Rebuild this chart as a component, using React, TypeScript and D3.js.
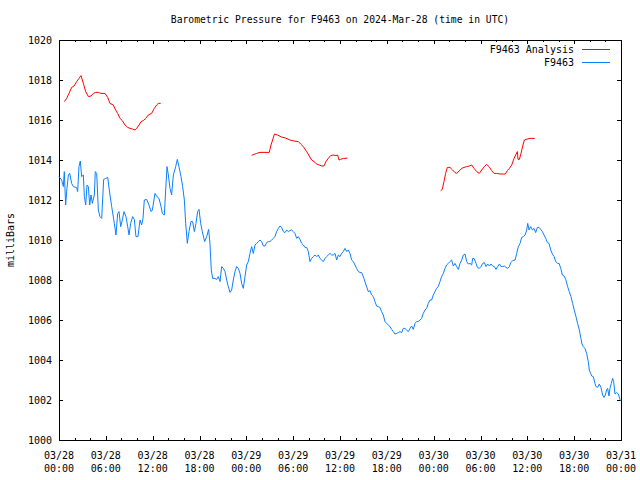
import React from "react";
import * as d3 from "d3";

// hours since 2024-03-28 00:00 UTC
const stationHours = [0,0.34,0.56,0.68,0.85,1.02,1.2,1.37,1.62,1.84,2.26,2.39,2.56,2.73,2.9,3.12,3.25,3.42,3.59,3.76,3.93,4.1,4.27,4.53,4.65,4.83,5.04,5.25,5.47,5.72,5.98,6.24,6.53,6.75,7.09,7.3,7.52,7.69,7.9,8.11,8.33,8.58,8.8,8.97,9.18,9.44,9.65,9.86,10.12,10.38,10.59,10.76,10.93,11.23,11.53,11.79,11.96,12.3,12.55,12.81,13.07,13.24,13.49,13.67,13.84,14.01,14.22,14.43,14.65,14.95,15.16,15.37,15.63,15.84,16.06,16.23,16.44,16.65,16.91,17.12,17.34,17.55,17.76,17.94,18.15,18.36,18.66,
18.92,19.17,19.34,19.51,19.69,19.98,20.2,20.41,20.63,20.84,21.05,21.27,21.48,21.69,21.91,22.12,22.33,22.55,22.76,22.97,23.19,23.4,23.61,23.83,24.04,24.25,24.47,24.68,24.9,25.11,25.32,25.54,25.75,25.96,26.18,26.39,26.6,26.82,27.03,27.24,27.46,27.67,27.88,28.1,28.31,28.52,28.74,28.95,29.17,29.38,29.59,29.81,30.02,30.23,30.45,30.66,30.87,31.09,31.3,31.51,31.73,31.94,32.15,32.37,32.58,32.8,33.01,33.22,33.44,33.65,33.86,34.08,34.29,34.5,34.72,34.93,35.14,35.36,35.57,35.78,36.0,36.21,36.42,36.64,36.85,37.07,37.28,
37.49,37.7,37.92,38.13,38.35,38.56,38.77,39.07,39.33,39.63,39.84,40.05,40.27,40.48,40.69,40.9,41.12,41.33,41.55,41.76,41.97,42.19,42.4,42.62,42.83,43.04,43.26,43.47,43.68,43.9,44.11,44.32,44.54,44.75,44.97,45.18,45.39,45.61,45.82,46.03,46.25,46.46,46.67,46.89,47.1,47.31,47.53,47.74,47.95,48.17,48.38,48.59,48.81,49.02,49.24,49.45,49.66,49.88,50.09,50.3,
50.52,50.73,50.95,51.16,51.38,51.59,51.8,52.02,52.23,52.44,52.66,52.87,53.0,53.17,53.43,53.6,53.85,54.07,54.28,54.49,54.71,54.92,55.14,55.35,55.56,55.78,55.99,56.2,56.42,56.63,56.85,57.06,57.27,57.49,57.7,57.87,58.13,58.43,58.64,58.85,59.07,59.28,59.49,59.71,59.92,60.05,60.22,60.43,60.65,60.86,61.07,61.29,61.5,61.71,61.93,62.14,62.36,62.57,62.78,63.0,63.21,63.43,63.64,63.85,64.07,64.28,64.49,64.71,64.92,
65.16,65.37,65.59,65.8,66.01,66.23,66.44,66.66,66.87,67.0,67.17,67.38,67.6,67.81,67.94,68.11,68.24,68.45,68.67,68.79,69.01,69.22,69.43,69.65,69.82,69.99,70.16,70.29,70.46,70.59,70.76,70.93,71.06,71.23,71.45,71.66,71.87,72];

const stationPressure = [1013.17,1013.0,1012.67,1013.42,1011.75,1012.58,1013.25,1013.33,1012.83,1012.67,1012.62,1012.42,1013.67,1013.95,1013.17,1013.25,1012.17,1011.75,1012.75,1012.67,1011.75,1012.25,1011.83,1012.25,1013.42,1013.33,1011.5,1011.17,1011.08,1013.03,1013.08,1013.13,1012.25,1011.67,1010.83,1010.25,1011.33,1011.42,1010.67,1011.0,1011.42,1011.17,1010.67,1010.25,1010.83,1011.17,1011.03,1010.17,1010.17,1011.0,1010.75,1011.08,1012.0,1012.03,1011.75,1011.42,1011.5,1012.33,1012.17,1012.08,1011.67,1011.33,1011.25,1012.5,1013.67,1013.25,1012.58,1012.25,1013.25,1013.67,1014.03,1013.67,1013.17,1012.67,1012.0,1010.83,1009.83,1010.42,1010.92,1010.92,1010.42,1010.83,1011.42,1011.53,1010.83,1010.42,1009.92,
1010.17,1010.53,1009.83,1008.5,1008.08,1008.08,1008.03,1008.17,1007.92,1008.67,1008.58,1008.42,1008.0,1007.67,1007.38,1007.5,1008.0,1008.42,1008.67,1008.58,1008.33,1007.83,1007.58,1008.17,1008.75,1008.92,1009.33,1009.67,1009.33,1009.75,1009.83,1009.92,1010.0,1009.92,1009.7,1009.7,1009.87,1009.92,1009.92,1010.0,1010.08,1010.17,1010.42,1010.58,1010.7,1010.63,1010.42,1010.37,1010.5,1010.42,1010.47,1010.5,1010.42,1010.33,1010.08,1010.17,1010.03,1009.83,1009.75,1009.63,1009.63,1009.42,1008.92,1009.08,1009.17,1009.25,1009.17,1009.25,1009.08,1009.0,1008.92,1009.08,1009.17,1009.25,1009.33,1009.25,1009.25,1009.33,1009.0,1009.25,1009.17,1009.33,1009.42,1009.58,1009.42,1009.5,1009.33,
1009.0,1008.92,1008.75,1008.58,1008.42,1008.38,1008.37,1008.08,1007.75,1007.42,1007.47,1007.25,1007.17,1006.92,1006.7,1006.67,1006.63,1006.42,1006.25,1005.92,1005.83,1005.75,1005.67,1005.53,1005.42,1005.3,1005.33,1005.37,1005.42,1005.37,1005.58,1005.58,1005.5,1005.42,1005.58,1005.7,1005.53,1005.83,1005.92,1005.92,1006.0,1006.08,1006.33,1006.5,1006.58,1006.83,1007.0,1007.0,1007.25,1007.42,1007.58,1007.67,1007.92,1008.17,1008.33,1008.58,1008.75,1008.83,1008.92,1009.0,
1008.7,1008.83,1008.67,1008.53,1008.83,1009.0,1009.25,1009.3,1008.92,1008.8,1008.83,1008.75,1009.08,1009.08,1008.83,1008.63,1008.58,1008.67,1008.83,1008.87,1008.67,1008.8,1008.7,1008.8,1008.7,1008.67,1008.53,1008.67,1008.8,1008.67,1008.67,1008.7,1008.63,1008.58,1008.67,1008.87,1008.97,1009.0,1009.33,1009.67,1009.83,1010.13,1010.17,1010.25,1010.5,1010.83,1010.5,1010.67,1010.5,1010.58,1010.37,1010.63,1010.63,1010.53,1010.42,1010.25,1010.08,1009.87,1009.83,1009.5,1009.3,1009.17,1008.92,1008.83,1008.83,1008.58,1008.25,1008.2,1008.03,
1007.67,1007.42,1007.17,1006.83,1006.5,1006.17,1005.83,1005.5,1005.08,1004.8,1004.67,1004.58,1004.33,1003.92,1003.5,1003.33,1003.2,1003.17,1002.83,1002.67,1002.63,1002.8,1002.63,1002.25,1002.13,1002.25,1002.5,1002.58,1002.2,1002.58,1002.83,1003.08,1002.92,1002.3,1002.37,1002.3,1002.03,1001.95];

// null marks a gap in the analysis record
const analysisHours = [0.68,0.98,1.28,1.62,1.92,2.26,2.56,2.82,3.12,3.42,3.76,4.1,4.4,4.7,5.04,5.38,5.89,6.24,6.53,6.96,7.26,7.52,7.82,8.11,8.46,8.8,9.1,9.4,9.74,9.95,10.25,10.51,10.81,11.1,11.44,11.87,12.21,12.51,12.72,13.02,
18.0,
24.68,24.98,25.32,25.75,26.39,26.94,27.16,27.37,27.6,28.0,28.5,29.0,29.59,30.1,30.66,30.96,31.3,31.51,31.73,32.07,32.37,32.67,33.01,33.35,33.65,33.95,34.2,34.5,34.8,35.14,35.48,35.7,35.87,36.08,36.42,36.64,36.94,
42.0,
48.89,49.1,49.32,49.53,49.75,50.09,50.43,50.73,50.95,51.29,51.59,51.89,52.23,52.57,52.87,53.17,53.51,53.85,54.15,54.49,54.79,55.09,55.43,55.73,56.07,56.5,56.92,57.18,57.44,57.7,58.0,58.3,58.51,58.72,58.81,58.98,59.19,59.41,59.62,59.83,60.35,60.95];

const analysisPressure = [1016.92,1017.08,1017.33,1017.63,1017.7,1017.92,1018.08,1018.22,1017.83,1017.42,1017.17,1017.2,1017.33,1017.38,1017.38,1017.33,1017.33,1017.13,1016.83,1016.75,1016.5,1016.33,1016.08,1015.97,1015.75,1015.63,1015.58,1015.55,1015.5,1015.58,1015.75,1015.92,1015.97,1016.08,1016.25,1016.33,1016.58,1016.75,1016.83,1016.83,
null,
1014.23,1014.28,1014.33,1014.38,1014.38,1014.38,1014.75,1015.0,1015.3,1015.25,1015.15,1015.1,1015.0,1014.95,1014.92,1014.8,1014.67,1014.55,1014.42,1014.2,1014.0,1013.92,1013.8,1013.75,1013.7,1013.7,1013.92,1014.08,1014.22,1014.25,1014.22,1014.25,1014.0,1014.03,1014.08,1014.08,1014.1,
null,
1012.47,1012.53,1012.92,1013.33,1013.63,1013.63,1013.5,1013.37,1013.33,1013.47,1013.58,1013.63,1013.67,1013.7,1013.75,1013.58,1013.42,1013.33,1013.5,1013.67,1013.78,1013.67,1013.47,1013.33,1013.33,1013.3,1013.3,1013.3,1013.47,1013.58,1013.75,1014.08,1014.25,1014.42,1014.03,1014.03,1014.33,1014.7,1015.0,1015.03,1015.08,1015.08];

const xTickDates = ["03/28","03/28","03/28","03/28","03/29","03/29","03/29","03/29","03/30","03/30","03/30","03/30","03/31"];
const xTickTimes = ["00:00","06:00","12:00","18:00","00:00","06:00","12:00","18:00","00:00","06:00","12:00","18:00","00:00"];
const yTicks = [1000,1002,1004,1006,1008,1010,1012,1014,1016,1018,1020];

const W = 640, H = 480;
const L = 59, R = 621, T = 40, B = 440;
const FONT = "'DejaVu Sans Mono', 'Liberation Mono', monospace";
const RED = "#ff0000";
const BLUE = "#0a80ff";

export default function App() {
  const x = d3.scaleLinear().domain([0, 72]).range([L, R]);
  const y = d3.scaleLinear().domain([1000, 1020]).range([B, T]);

  const stationData = stationHours.map((h, i) => [h, stationPressure[i]] as [number, number | null]);
  const analysisData = analysisHours.map((h, i) => [h, analysisPressure[i]] as [number, number | null]);

  const line = d3
    .line<[number, number | null]>()
    .defined((d) => d[1] != null)
    .x((d) => x(d[0]))
    .y((d) => y(d[1] as number));

  const majorX = d3.range(0, 73, 6);
  const minorX = d3.range(0, 73, 2).filter((h) => h % 6 !== 0);

  return (
    <div style={{ position: "fixed", left: 0, top: 0, background: "#fff" }}>
      <svg width={W} height={H} style={{ display: "block" }} fontFamily={FONT} fontSize={10}>
        <rect x={0} y={0} width={W} height={H} fill="#fff" />
        <text x={(L + R) / 2} y={23} textAnchor="middle" fontSize={9.7} fill="#000">
          Barometric Pressure for F9463 on 2024-Mar-28 (time in UTC)
        </text>

        <g shapeRendering="crispEdges" stroke="#000" strokeWidth={1}>
          {yTicks.map((v) => (
            <g key={"yt" + v}>
              <line x1={L} x2={L + 4} y1={Math.round(y(v)) + 0.5} y2={Math.round(y(v)) + 0.5} />
              <line x1={R - 4} x2={R} y1={Math.round(y(v)) + 0.5} y2={Math.round(y(v)) + 0.5} />
            </g>
          ))}
          {majorX.map((h) => (
            <g key={"mx" + h}>
              <line x1={Math.round(x(h)) + 0.5} x2={Math.round(x(h)) + 0.5} y1={B} y2={B - 4} />
              <line x1={Math.round(x(h)) + 0.5} x2={Math.round(x(h)) + 0.5} y1={T} y2={T + 4} />
            </g>
          ))}
          {minorX.map((h) => (
            <g key={"nx" + h}>
              <line x1={Math.round(x(h)) + 0.5} x2={Math.round(x(h)) + 0.5} y1={B} y2={B - 2} />
              <line x1={Math.round(x(h)) + 0.5} x2={Math.round(x(h)) + 0.5} y1={T} y2={T + 2} />
            </g>
          ))}
          <rect x={L + 0.5} y={T + 0.5} width={R - L} height={B - T} fill="none" />
        </g>

        {yTicks.map((v) => (
          <text key={"yl" + v} x={52} y={y(v) + 4} textAnchor="end" fill="#000">
            {v}
          </text>
        ))}
        {majorX.map((h, i) => (
          <g key={"xl" + h}>
            <text x={x(h)} y={459} textAnchor="middle" fill="#000">{xTickDates[i]}</text>
            <text x={x(h)} y={472} textAnchor="middle" fill="#000">{xTickTimes[i]}</text>
          </g>
        ))}
        <text transform={`translate(14,${(T + B) / 2}) rotate(-90)`} textAnchor="middle" fill="#000">
          milliBars
        </text>

        <path d={line(analysisData) || ""} fill="none" stroke={RED} strokeWidth={1} />
        <path d={line(stationData) || ""} fill="none" stroke={BLUE} strokeWidth={1} />

        <text x={574} y={53} textAnchor="end" fill="#000">F9463 Analysis</text>
        <line x1={582} x2={610} y1={49.5} y2={49.5} stroke={RED} strokeWidth={1} shapeRendering="crispEdges" />
        <text x={574} y={66} textAnchor="end" fill="#000">F9463</text>
        <line x1={582} x2={610} y1={62.5} y2={62.5} stroke={BLUE} strokeWidth={1} shapeRendering="crispEdges" />
      </svg>
    </div>
  );
}
